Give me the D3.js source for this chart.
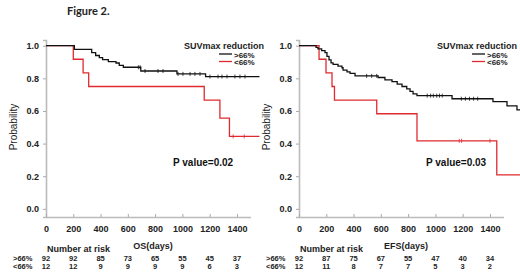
<!DOCTYPE html>
<html>
  <head>
    <meta charset="utf-8">
    <title>Figure 2</title>
    <style>
      body { margin: 0; background: #fff; }
      text { font-family: "Liberation Sans", Arial, sans-serif; }
    </style>
  </head>
  <body>
    <svg id="fig" width="520" height="279"></svg>
    <script src="https://d3js.org/d3.v7.min.js"></script>
    <script>
      // axis ticks
      xTicks = [0, 200, 400, 600, 800, 1000, 1200, 1400]
      yTicks = [0, 0.2, 0.4, 0.6, 0.8, 1.0]

      // OS, SUVmax reduction >66%  (day of event, survival after it)
      osHighDays = [208, 335, 364, 391, 415, 457, 513, 537, 567, 695, 960, 1170]
      osHighSurv = [0.978, 0.958, 0.94, 0.927, 0.915, 0.903, 0.894, 0.879, 0.868, 0.845, 0.827, 0.811]
      osHighCensor = [677, 690, 726, 821, 858, 968, 1004, 1056, 1092, 1129, 1202, 1261, 1290, 1327, 1385, 1422, 1459]
      // OS, <66%
      osLowDays = [200, 272, 313, 1160, 1275, 1345]
      osLowSurv = [0.917, 0.833, 0.75, 0.667, 0.556, 0.444]
      osLowCensor = [1372, 1453]

      // EFS, >66%
      efsHighDays = [125, 139, 166, 191, 205, 220, 235, 250, 286, 315, 323, 352, 374, 411, 580, 630, 682, 720, 755, 790, 814, 836, 865, 1122, 1422, 1525, 1598]
      efsHighSurv = [0.99, 0.98, 0.97, 0.957, 0.935, 0.913, 0.895, 0.885, 0.875, 0.865, 0.85, 0.84, 0.83, 0.815, 0.805, 0.79, 0.78, 0.765, 0.75, 0.735, 0.72, 0.705, 0.694, 0.675, 0.657, 0.631, 0.607]
      efsHighCensor = [496, 533, 570, 940, 965, 985, 1010, 1030, 1050, 1190, 1220, 1250, 1280, 1310]
      // EFS, <66%
      efsLowDays = [147, 198, 242, 260, 570, 865, 1450]
      efsLowSurv = [0.917, 0.833, 0.75, 0.667, 0.583, 0.417, 0.208]
      efsLowCensor = [1175, 1192, 1400]

      // number at risk under each x tick
      osRiskHigh = [92, 92, 85, 73, 65, 55, 45, 37]
      osRiskLow = [12, 12, 9, 9, 9, 9, 6, 3]
      efsRiskHigh = [92, 87, 75, 67, 55, 47, 40, 34]
      efsRiskLow = [12, 11, 8, 7, 7, 5, 3, 2]

      groups = ['>66%', '<66%']
      colors = ['#111', '#e02a2e']

      svg = d3.select('#fig')
      svg.append('rect').attr('width', 520).attr('height', 279).attr('fill', '#fff')

      svg.append('text')
        .attr('x', 67).attr('y', 15)
        .style('font-family', 'Lato, sans-serif')
        .style('font-weight', 'bold')
        .style('font-size', '11px')
        .attr('fill', '#222')
        .text('Figure 2.')

      // turns the step lists into points for curveStepAfter
      function toPoints(days, surv, end) {
        const pts = [{ t: 0, s: 1 }]
        days.forEach((d, i) => pts.push({ t: d, s: surv[i] }))
        pts.push({ t: end, s: surv[surv.length - 1] })
        return pts
      }

      function survAt(days, surv, t) {
        const i = d3.bisectRight(days, t)
        return i === 0 ? 1 : surv[i - 1]
      }

      function panel(ox, curves, xLabel, pText, riskHigh, riskLow) {
        const x = d3.scaleLinear().domain([0, 1500]).range([ox, ox + 204.6])
        const y = d3.scaleLinear().domain([-0.05, 1.035]).range([217, 40])
        const g = svg.append('g')

        // y axis
        g.append('g')
          .attr('transform', `translate(${ox},0)`)
          .call(d3.axisLeft(y).tickValues(yTicks).tickFormat(d3.format('.1f')).tickSizeOuter(0).tickSize(3).tickPadding(4))
          .call(a => a.select('.domain').attr('stroke', '#bbb').attr('stroke-width', 1.6))
          .call(a => a.selectAll('.tick line').attr('stroke', '#aaa'))
          .call(a => a.selectAll('text').attr('fill', '#222').style('font-size', '9px').style('font-weight', 'bold'))

        // x axis, ticks pointing up
        g.append('g')
          .attr('transform', `translate(0,217)`)
          .call(d3.axisBottom(x).tickValues(xTicks).tickFormat(d3.format('d')).tickSizeOuter(0).tickSizeInner(-3).tickPadding(9))
          .call(a => a.select('.domain').attr('stroke', '#bbb').attr('stroke-width', 1.6))
          .call(a => a.selectAll('.tick line').attr('stroke', '#aaa'))
          .call(a => a.selectAll('text').attr('fill', '#222').style('font-size', '9px').style('font-weight', 'bold'))

        g.append('text')
          .attr('transform', `translate(${ox - 29},127) rotate(-90)`)
          .attr('text-anchor', 'middle')
          .style('font-size', '10px')
          .attr('fill', '#222')
          .text('Probability')

        const line = d3.line().x(d => x(d.t)).y(d => y(d.s)).curve(d3.curveStepAfter)

        // red group first so the black one sits on top
        curves.slice().reverse().forEach(c => {
          g.append('path')
            .datum(toPoints(c.days, c.surv, c.end))
            .attr('fill', 'none')
            .attr('stroke', c.color)
            .attr('stroke-width', 1.3)
            .attr('d', line)
          g.selectAll(null)
            .data(c.censor)
            .join('line')
              .attr('x1', d => x(d)).attr('x2', d => x(d))
              .attr('y1', d => y(survAt(c.days, c.surv, d)) - 2)
              .attr('y2', d => y(survAt(c.days, c.surv, d)) + 2)
              .attr('stroke', c.color)
              .attr('stroke-width', 0.8)
        })

        // legend
        g.append('text')
          .attr('x', ox + 138).attr('y', 49)
          .style('font-size', '9px').style('font-weight', 'bold')
          .attr('fill', '#222')
          .text('SUVmax reduction')
        groups.forEach((name, i) => {
          g.append('line')
            .attr('x1', ox + 173).attr('x2', ox + 186)
            .attr('y1', 54 + i * 7.5).attr('y2', 54 + i * 7.5)
            .attr('stroke', colors[i]).attr('stroke-width', 1.3)
          g.append('text')
            .attr('x', ox + 188).attr('y', 57.5 + i * 7.5)
            .style('font-size', '8px').style('font-weight', 'bold')
            .attr('fill', '#222')
            .text(name)
        })

        g.append('text')
          .attr('x', ox + 127).attr('y', 166)
          .style('font-size', '10px').style('font-weight', 'bold')
          .attr('fill', '#111')
          .text(pText)

        g.append('text')
          .attr('x', ox + 107).attr('y', 249)
          .attr('text-anchor', 'middle')
          .style('font-size', '9px').style('font-weight', 'bold')
          .attr('fill', '#222')
          .text(xLabel)

        g.append('text')
          .attr('x', ox + 1).attr('y', 252)
          .style('font-size', '9px').style('font-weight', 'bold')
          .attr('fill', '#222')
          .text('Number at risk')

        // number at risk table
        ;[riskHigh, riskLow].forEach((row, r) => {
          const yy = 261 + r * 7.5
          g.append('text')
            .attr('x', ox - 33).attr('y', yy)
            .style('font-size', '7.5px').style('font-weight', 'bold')
            .attr('fill', '#222')
            .text(groups[r])
          g.selectAll(null)
            .data(row)
            .join('text')
              .attr('x', (d, i) => x(xTicks[i]))
              .attr('y', yy)
              .attr('text-anchor', 'middle')
              .style('font-size', '7.5px').style('font-weight', 'bold')
              .attr('fill', '#222')
              .text(d => d)
        })
      }

      panel(46, [
        { days: osHighDays, surv: osHighSurv, censor: osHighCensor, end: 1565, color: colors[0] },
        { days: osLowDays, surv: osLowSurv, censor: osLowCensor, end: 1565, color: colors[1] }
      ], 'OS(days)', 'P value=0.02', osRiskHigh, osRiskLow)

      panel(299, [
        { days: efsHighDays, surv: efsHighSurv, censor: efsHighCensor, end: 1640, color: colors[0] },
        { days: efsLowDays, surv: efsLowSurv, censor: efsLowCensor, end: 1640, color: colors[1] }
      ], 'EFS(days)', 'P value=0.03', efsRiskHigh, efsRiskLow)
    </script>
  </body>
</html>
